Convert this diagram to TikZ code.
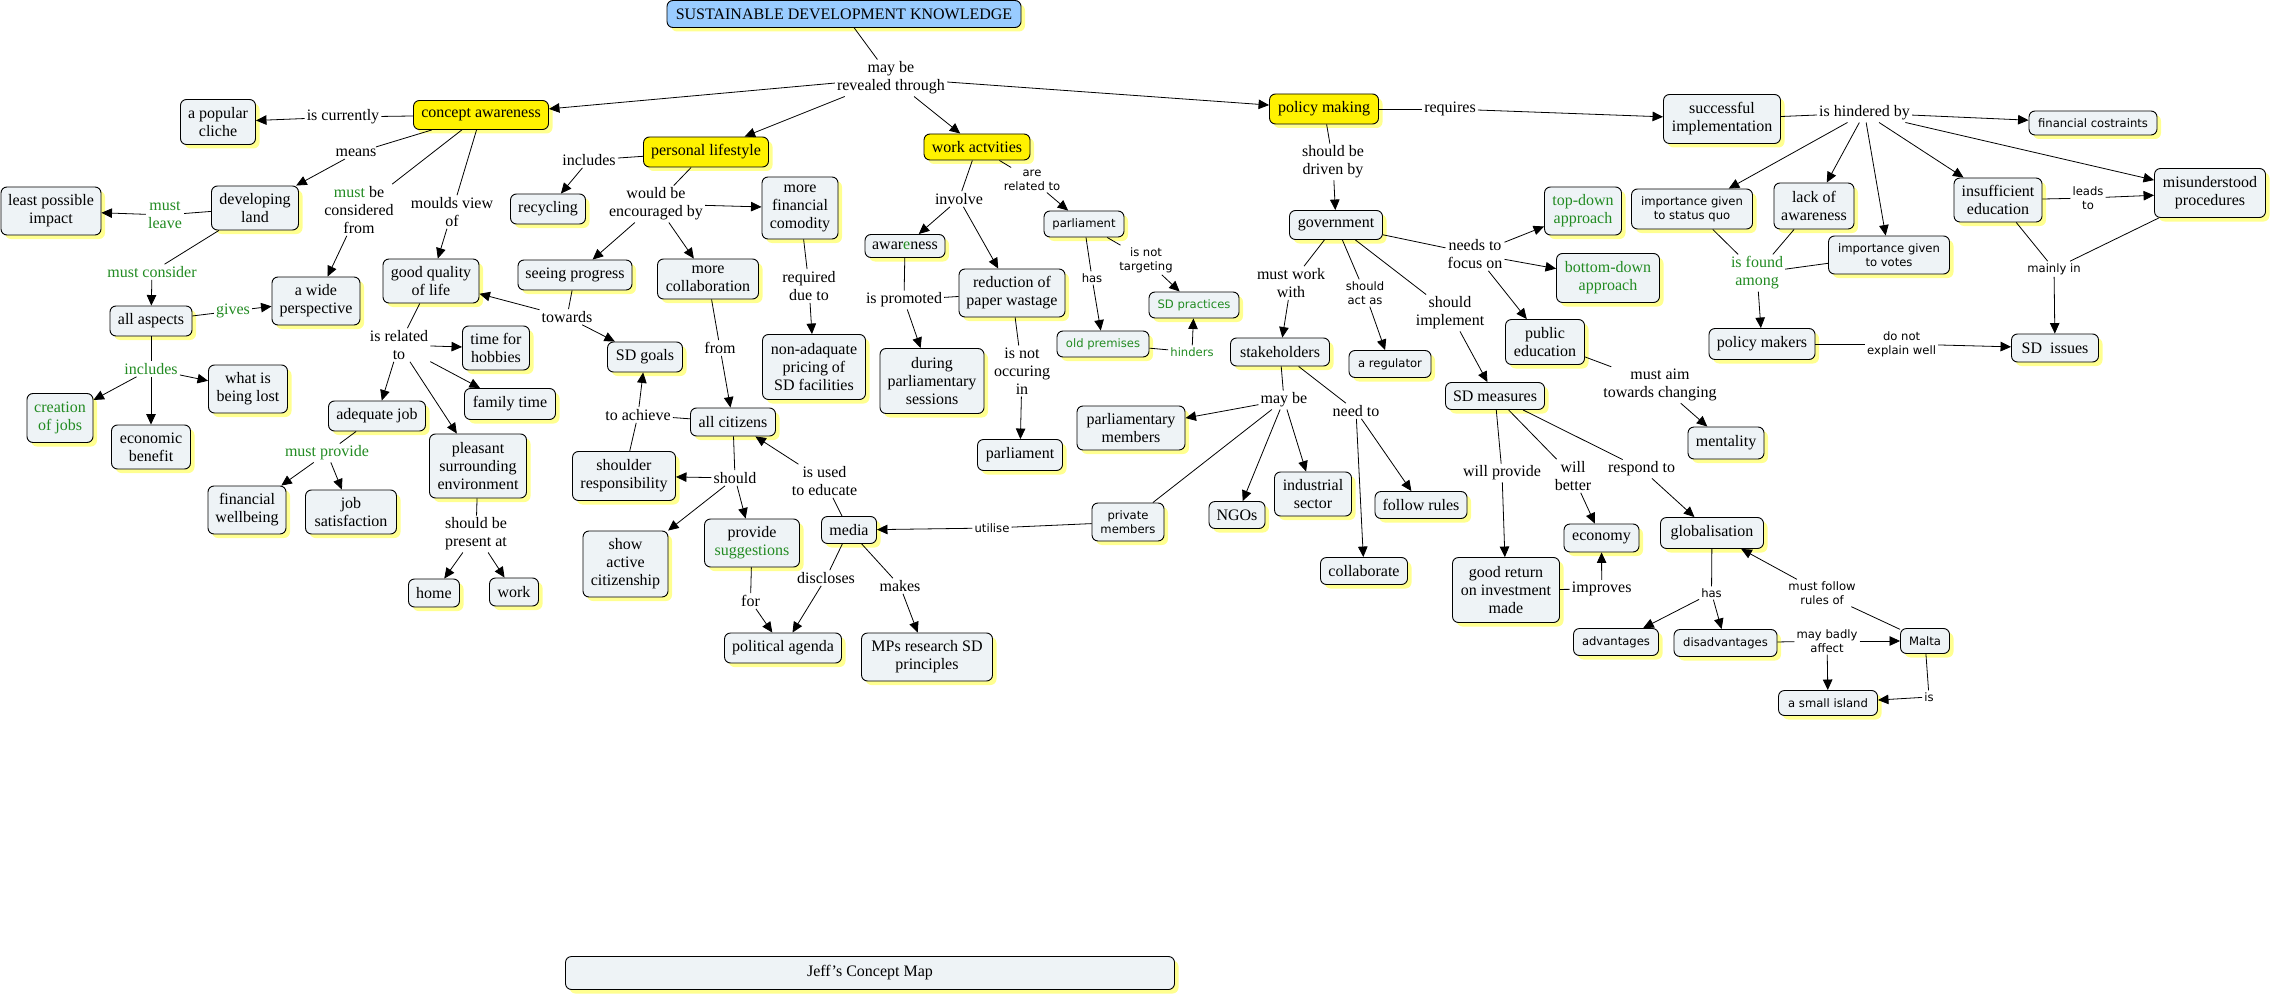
\documentclass[tikz,border=0pt]{standalone}
\usepackage{fontspec}
\setmainfont{Liberation Serif}
\newfontfamily\sansf{DejaVu Sans}
\usetikzlibrary{arrows.meta,shadows}
\definecolor{cfill}{HTML}{EEF3F6}
\definecolor{shy}{HTML}{FFFF90}
\definecolor{tblue}{HTML}{99CCFF}
\definecolor{cgreen}{RGB}{34,139,34}
\newcommand\serifsz{\fontsize{16}{18}\selectfont}
\newcommand\sanssz{\sansf\fontsize{11.6}{14}\selectfont}
\tikzset{
 cpt/.style={draw=black, line width=0.9pt, rounded corners=6pt, fill=cfill, align=center, font=\serifsz, inner sep=2pt,
   general shadow={fill=shy, shadow xshift=4pt, shadow yshift=-4pt}},
 ycpt/.style={cpt, fill=yellow},
 scpt/.style={cpt, font=\sanssz},
 sz/.style 2 args={minimum width=#1pt, minimum height=#2pt},
 lab/.style={align=center, font=\serifsz, inner sep=2pt},
 slab/.style={lab, font=\sanssz},
 glab/.style={lab, text=cgreen},
 ln/.style={line width=0.8pt},
 ar/.style={line width=0.8pt, -{Triangle[length=10.5pt,width=9.5pt]}},
}
\begin{document}
\begin{tikzpicture}[x=1pt,y=-1pt]
\fill[white] (0,0) rectangle (2272,995);
\useasboundingbox (0,0) rectangle (2272,995);
% ---------- concepts ----------
\node[cpt, fill=tblue, sz={354}{27}] (title) at (844,14) {SUSTAINABLE DEVELOPMENT KNOWLEDGE};
\node[ycpt, sz={135}{29}] (ca) at (481,115) {concept awareness};
\node[ycpt, sz={125}{30}] (pl) at (706,152) {personal lifestyle};
\node[ycpt, sz={106}{26}] (wa) at (977,147) {work actvities};
\node[ycpt, sz={109}{30}] (pm) at (1324,109) {policy making};
\node[cpt, sz={75}{45}] (cliche) at (218,122) {a popular\\cliche};
\node[cpt, sz={87}{44}] (dev) at (255,208) {developing\\land};
\node[cpt, sz={100}{48}] (lpi) at (51,211) {least possible\\impact};
\node[cpt, sz={88}{48}] (wide) at (316,301) {a wide\\perspective};
\node[cpt, sz={96}{44}] (gql) at (431,281) {good quality\\of life};
\node[cpt, sz={82}{30}] (allasp) at (151,321) {all aspects};
\node[cpt, sz={75}{30}] (recyc) at (548,209) {recycling};
\node[cpt, sz={114}{30}] (seeing) at (575,275) {seeing progress};
\node[cpt, sz={67}{44}] (hobbies) at (496,348) {time for\\hobbies};
\node[cpt, sz={79}{48}] (lost) at (248,389) {what is\\being lost};
\node[cpt, sz={66}{49}, text=cgreen] (jobs) at (60,418) {creation\\of jobs};
\node[cpt, sz={79}{44}] (econ) at (151,447) {economic\\benefit};
\node[cpt, sz={97}{30}] (adjob) at (377,416) {adequate job};
\node[cpt, sz={78}{48}] (finwell) at (247,510) {financial\\wellbeing};
\node[cpt, sz={91}{44}] (jobsat) at (351,512) {job\\satisfaction};
\node[cpt, sz={91}{31}] (family) at (510,404) {family time};
\node[cpt, sz={97}{64}] (pleasant) at (478,466) {pleasant\\surrounding\\environment};
\node[cpt, sz={51}{28}] (home) at (434,593) {home};
\node[cpt, sz={49}{28}] (work) at (514,592) {work};
\node[cpt, sz={76}{62}] (finc) at (800,208) {more\\financial\\comodity};
\node[cpt, sz={101}{40}] (collab) at (708,279) {more\\collaboration};
\node[cpt, sz={75}{30}] (sdgoals) at (645,357) {SD goals};
\node[cpt, sz={103}{65}] (nonad) at (814,367) {non-adaquate\\pricing of\\SD facilities};
\node[scpt, sz={80}{26}] (parl1) at (1084,224) {parliament};
\node[cpt, sz={80}{23}] (aware) at (905,246) {awar{\color{cgreen}e}ness};
\node[cpt, sz={106}{48}] (reduc) at (1012,293) {reduction of\\paper wastage};
\node[cpt, sz={104}{65}] (during) at (932,381) {during\\parliamentary\\sessions};
\node[scpt, sz={92}{26}, text=cgreen] (oldp) at (1103,344) {old premises};
\node[scpt, sz={90}{26}, text=cgreen] (sdprac) at (1194,305) {SD practices};
\node[cpt, sz={85}{28}] (allcit) at (733,422) {all citizens};
\node[cpt, sz={103}{49}] (shoulder) at (624,476) {shoulder\\responsibility};
\node[cpt, sz={85}{66}] (showact) at (625.5,564) {show\\active\\citizenship};
\node[cpt, sz={95}{48}] (provide) at (752,543) {provide\\{\color{cgreen}suggestions}};
\node[cpt, sz={55}{27}] (media) at (849,530) {media};
\node[scpt, sz={72}{38}] (privm) at (1128,522) {private\\members};
\node[cpt, sz={85}{31}] (parl2) at (1020,455) {parliament};
\node[cpt, sz={108}{44}] (parlm) at (1131,428) {parliamentary\\members};
\node[cpt, sz={117}{30}] (polag) at (783,648) {political agenda};
\node[cpt, sz={131}{48}] (mps) at (927,657) {MPs research SD\\principles};
\node[cpt, sz={117}{49}] (succ) at (1722,119) {successful\\implementation};
\node[cpt, sz={93}{29}] (gov) at (1336,225) {government};
\node[cpt, sz={77}{48}, text=cgreen] (topdown) at (1583,211) {top-down\\approach};
\node[scpt, sz={121}{40}] (statusq) at (1692,209) {importance given\\to status quo};
\node[cpt, sz={103}{49}, text=cgreen] (bottomdown) at (1608,278) {bottom-down\\approach};
\node[cpt, sz={99}{28}] (stake) at (1280,352) {stakeholders};
\node[scpt, sz={82}{27}] (regul) at (1390,364) {a regulator};
\node[cpt, sz={79}{45}] (pubed) at (1545,342) {public\\education};
\node[scpt, sz={128}{24}] (fincos) at (2093,123) {financial costraints};
\node[cpt, sz={80}{46}] (lack) at (1814,206) {lack of\\awareness};
\node[scpt, sz={121}{38}] (votes) at (1889,255) {importance given\\to votes};
\node[cpt, sz={88}{44}] (insuff) at (1998,200) {insufficient\\education};
\node[cpt, sz={111}{49}] (misund) at (2210,193) {misunderstood\\procedures};
\node[cpt, sz={106}{31}] (polmak) at (1762,344) {policy makers};
\node[cpt, sz={87}{28}] (sdiss) at (2055,348) {SD\ \ issues};
\node[cpt, sz={99}{27}] (sdmeas) at (1495,396) {SD measures};
\node[cpt, sz={77}{44}] (indus) at (1313,494) {industrial\\sector};
\node[cpt, sz={56}{27}] (ngos) at (1237,515) {NGOs};
\node[cpt, sz={92}{27}] (follow) at (1421,505) {follow rules};
\node[cpt, sz={87}{27}] (collabor) at (1364,571) {collaborate};
\node[cpt, sz={75}{28}] (economy) at (1601.5,538) {economy};
\node[cpt, sz={103}{31}] (glob) at (1712,533) {globalisation};
\node[cpt, sz={107}{65}] (goodret) at (1506,590) {good return\\on investment\\made};
\node[scpt, sz={85}{27}] (adv) at (1616,642) {advantages};
\node[scpt, sz={103}{27}] (disadv) at (1725.5,643) {disadvantages};
\node[cpt, sz={76}{32}] (mental) at (1726,443) {mentality};
\node[scpt, sz={49}{25}] (malta) at (1925,641) {Malta};
\node[scpt, sz={99}{25}] (island) at (1828,703) {a small island};
\node[cpt, sz={609}{33}] (jeff) at (870,973) {Jeff's Concept Map};
% ---------- linking phrases ----------
\node[lab] (lrev) at (891,78) {may be\\revealed through};
\node[lab] (lcur) at (343,117) {is currently};
\node[lab] (lmeans) at (356,153) {means};
\node[glab] (lleave) at (165,215) {must\\leave};
\node[lab] (lconsfrom) at (359,210) {{\color{cgreen}must} be\\considered\\from};
\node[lab] (lmoulds) at (452,212) {moulds view\\of};
\node[glab] (lmcons) at (152,272) {must consider};
\node[glab] (lgives) at (233,311) {gives};
\node[glab] (lincl) at (151,369) {includes};
\node[lab] (lrel) at (399,345) {is related\\to};
\node[glab] (lmprov) at (327,453) {must provide};
\node[lab] (lpres) at (476,534) {should be\\present at};
\node[lab] (lincl2) at (589,160) {includes};
\node[lab] (lenc) at (656,204) {would be\\encouraged by};
\node[lab] (ltow) at (567,317) {towards};
\node[lab] (lreq) at (809,286) {required\\due to};
\node[lab] (lfrom) at (720,348) {from};
\node[lab] (lach) at (638,415) {to achieve};
\node[lab] (lshould) at (735,478) {should};
\node[lab] (ledu) at (824.5,481) {is used\\to educate};
\node[lab] (lfor) at (750.5,601) {for};
\node[lab] (ldisc) at (826,578) {discloses};
\node[lab] (lmakes) at (900,586) {makes};
\node[slab] (lutil) at (992,528) {utilise};
\node[lab] (linv) at (959,199) {involve};
\node[slab] (lrel2) at (1032,180) {are\\related to};
\node[lab] (lprom) at (904,300) {is promoted};
\node[lab] (locc) at (1022,371) {is not\\occuring\\in};
\node[slab] (lhas1) at (1092,278) {has};
\node[slab] (ltarg) at (1146,260) {is not\\targeting};
\node[slab, text=cgreen] (lhind) at (1192,352) {hinders};
\node[lab] (lreqs) at (1450,109) {requires};
\node[lab] (ldriven) at (1333,162) {should be\\driven by};
\node[lab] (lfocus) at (1475,254) {needs to\\focus on};
\node[lab] (lmww) at (1291,283) {must work\\with};
\node[slab] (lactas) at (1365,293) {should\\act as};
\node[lab] (limpl) at (1450,313) {should\\implement};
\node[lab] (laim) at (1660,385) {must aim\\towards changing};
\node[lab] (lhind2) at (1864.5,113) {is hindered by};
\node[slab] (lleads) at (2088,198) {leads\\to};
\node[glab] (lfound) at (1757,273) {is found\\among};
\node[slab] (lmainly) at (2054,269) {mainly in};
\node[slab] (lexplain) at (1901.6,344) {do not\\explain well};
\node[lab] (lmaybe) at (1284,400) {may be};
\node[lab] (lneed) at (1356,411) {need to};
\node[lab] (lwprov) at (1502,473) {will provide};
\node[lab] (lwbet) at (1573,476) {will\\better};
\node[lab] (lresp) at (1641.6,469) {respond to};
\node[lab] (limpr) at (1601.7,589) {improves};
\node[slab] (lhas2) at (1711.5,593) {has};
\node[slab] (lfollow) at (1822,593) {must follow\\rules of};
\node[slab] (lbadly) at (1827,641) {may badly\\affect};
\node[slab] (lis) at (1929,697) {is};
% ---------- connectors ----------
\draw[ln] (title) -- (lrev);
\draw[ar] (lrev) -- (ca);
\draw[ar] (lrev) -- (pl);
\draw[ar] (lrev) -- (wa);
\draw[ar] (lrev) -- (pm);
\draw[ln] (ca) -- (lcur); \draw[ar] (lcur) -- (cliche);
\draw[ln] (ca) -- (lmeans); \draw[ar] (lmeans) -- (dev);
\draw[ln] (ca) -- (lconsfrom); \draw[ar] (lconsfrom) -- (wide);
\draw[ln] (ca) -- (lmoulds); \draw[ar] (lmoulds) -- (gql);
\draw[ln] (dev) -- (lleave); \draw[ar] (lleave) -- (lpi);
\draw[ln] (dev) -- (lmcons); \draw[ar] (lmcons) -- (allasp);
\draw[ln] (allasp) -- (lgives); \draw[ar] (lgives) -- (wide);
\draw[ln] (allasp) -- (lincl);
\draw[ar] (lincl) -- (jobs); \draw[ar] (lincl) -- (econ); \draw[ar] (lincl) -- (lost);
\draw[ln] (gql) -- (lrel);
\draw[ar] (lrel) -- (hobbies); \draw[ar] (lrel) -- (family); \draw[ar] (lrel) -- (adjob); \draw[ar] (lrel) -- (pleasant);
\draw[ln] (adjob) -- (lmprov); \draw[ar] (lmprov) -- (finwell); \draw[ar] (lmprov) -- (jobsat);
\draw[ln] (pleasant) -- (lpres); \draw[ar] (lpres) -- (home); \draw[ar] (lpres) -- (work);
\draw[ln] (pl) -- (lincl2); \draw[ar] (lincl2) -- (recyc);
\draw[ln] (pl) -- (lenc);
\draw[ar] (lenc) -- (seeing); \draw[ar] (lenc) -- (collab); \draw[ar] (lenc) -- (finc);
\draw[ln] (seeing) -- (ltow); \draw[ar] (ltow) -- (gql); \draw[ar] (ltow) -- (sdgoals);
\draw[ln] (finc) -- (lreq); \draw[ar] (lreq) -- (nonad);
\draw[ln] (collab) -- (lfrom); \draw[ar] (lfrom) -- (allcit);
\draw[ln] (allcit) -- (lach); \draw[ln] (shoulder) -- (lach); \draw[ar] (lach) -- (sdgoals);
\draw[ln] (allcit) -- (lshould);
\draw[ar] (lshould) -- (shoulder); \draw[ar] (lshould) -- (showact); \draw[ar] (lshould) -- (provide);
\draw[ln] (media) -- (ledu); \draw[ar] (ledu) -- (allcit);
\draw[ln] (provide) -- (lfor); \draw[ar] (lfor) -- (polag);
\draw[ln] (media) -- (ldisc); \draw[ar] (ldisc) -- (polag);
\draw[ln] (media) -- (lmakes); \draw[ar] (lmakes) -- (mps);
\draw[ln] (privm) -- (lutil); \draw[ar] (lutil) -- (media);
\draw[ln] (wa) -- (linv); \draw[ar] (linv) -- (aware); \draw[ar] (linv) -- (reduc);
\draw[ln] (wa) -- (lrel2); \draw[ar] (lrel2) -- (parl1);
\draw[ln] (aware) -- (lprom); \draw[ln] (reduc) -- (lprom); \draw[ar] (lprom) -- (during);
\draw[ln] (reduc) -- (locc); \draw[ar] (locc) -- (parl2);
\draw[ln] (parl1) -- (lhas1); \draw[ar] (lhas1) -- (oldp);
\draw[ln] (parl1) -- (ltarg); \draw[ar] (ltarg) -- (sdprac);
\draw[ln] (oldp) -- (lhind); \draw[ar] (lhind) -- (sdprac);
\draw[ln] (pm) -- (lreqs); \draw[ar] (lreqs) -- (succ);
\draw[ln] (pm) -- (ldriven); \draw[ar] (ldriven) -- (gov);
\draw[ln] (gov) -- (lmww); \draw[ar] (lmww) -- (stake);
\draw[ln] (gov) -- (lactas); \draw[ar] (lactas) -- (regul);
\draw[ln] (gov) -- (limpl); \draw[ar] (limpl) -- (sdmeas);
\draw[ln] (gov) -- (lfocus);
\draw[ar] (lfocus) -- (topdown); \draw[ar] (lfocus) -- (bottomdown); \draw[ar] (lfocus) -- (pubed);
\draw[ln] (stake) -- (lmaybe);
\draw[ar] (lmaybe) -- (parlm); \draw[ar] (lmaybe) -- (ngos); \draw[ar] (lmaybe) -- (indus); \draw[ln] (lmaybe) -- (privm);
\draw[ln] (stake) -- (lneed); \draw[ar] (lneed) -- (follow); \draw[ar] (lneed) -- (collabor);
\draw[ln] (pubed) -- (laim); \draw[ar] (laim) -- (mental);
\draw[ln] (sdmeas) -- (lwprov); \draw[ar] (lwprov) -- (goodret);
\draw[ln] (sdmeas) -- (lwbet); \draw[ar] (lwbet) -- (economy);
\draw[ln] (sdmeas) -- (lresp); \draw[ar] (lresp) -- (glob);
\draw[ln] (goodret) -- (limpr); \draw[ar] (limpr) -- (economy);
\draw[ln] (glob) -- (lhas2); \draw[ar] (lhas2) -- (adv); \draw[ar] (lhas2) -- (disadv);
\draw[ln] (malta) -- (lfollow); \draw[ar] (lfollow) -- (glob);
\draw[ln] (disadv) -- (lbadly); \draw[ar] (lbadly) -- (malta); \draw[ar] (lbadly) -- (island);
\draw[ln] (malta) -- (lis); \draw[ar] (lis) -- (island);
\draw[ln] (succ) -- (lhind2);
\draw[ar] (lhind2) -- (fincos); \draw[ar] (lhind2) -- (statusq); \draw[ar] (lhind2) -- (lack);
\draw[ar] (lhind2) -- (votes); \draw[ar] (lhind2) -- (insuff); \draw[ar] (lhind2) -- (misund);
\draw[ln] (insuff) -- (lleads); \draw[ar] (lleads) -- (misund);
\draw[ln] (statusq) -- (lfound); \draw[ln] (lack) -- (lfound); \draw[ln] (votes) -- (lfound);
\draw[ar] (lfound) -- (polmak);
\draw[ln] (insuff) -- (lmainly); \draw[ln] (misund) -- (lmainly); \draw[ar] (lmainly) -- (sdiss);
\draw[ln] (polmak) -- (lexplain); \draw[ar] (lexplain) -- (sdiss);
\end{tikzpicture}
\end{document}
